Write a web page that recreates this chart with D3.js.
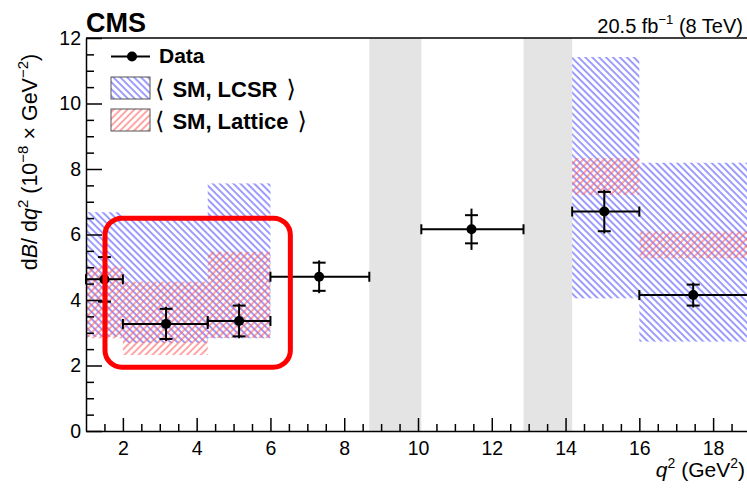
<!DOCTYPE html>
<meta charset="utf-8">
<style>
  body { margin: 0; background: #fff; }
  svg text { font-family: "Liberation Sans", Arial, sans-serif; fill: #000; }
  .axis path, .axis line { stroke: #000; stroke-width: 1.5; }
  .axis text { font-size: 19.5px; }
</style>
<body>
<div id="chart"></div>
<script src="https://cdn.jsdelivr.net/npm/d3@7"></script>
<script>

// data points: bin edges, position inside the bin, value, stat and total errors
const binLo  = [1, 2, 4.3, 6, 10.09, 14.18, 16];
const binHi  = [2, 4.3, 6, 8.68, 12.86, 16, 19];
const pointX = [1.50, 3.17, 5.15, 7.32, 11.45, 15.05, 17.46];
const pointY = [4.63, 3.27, 3.36, 4.71, 6.16, 6.70, 4.15];
const statErr = [0.68, 0.46, 0.47, 0.43, 0.43, 0.60, 0.32];
const totErr  = [0.78, 0.52, 0.53, 0.50, 0.63, 0.67, 0.38];

// SM predictions (bands)
const predLo = [1, 2, 4.3, 14.18, 16];
const predHi = [2, 4.3, 6, 16, 19];
const lcsrMin = [2.88, 2.69, 2.83, 4.05, 2.73];
const lcsrMax = [6.68, 6.45, 7.56, 11.42, 8.19];
const latMin  = [2.83, 2.32, 2.84, 7.21, 5.27];
const latMax  = [5.02, 4.56, 5.47, 8.33, 6.09];

// vetoed q2 regions (J/psi and psi')
const vetoLo = [8.68, 12.86];
const vetoHi = [10.09, 14.18];

// highlighted region
const boxX = [1.515, 6.54];
const boxY = [1.95, 6.5];

const xTicks = [2, 4, 6, 8, 10, 12, 14, 16, 18];
const yTicks = [0, 2, 4, 6, 8, 10, 12];

let width = 747, height = 489;
let mLeft = 86, mRight = 750, mTop = 38, mBottom = 431;

let svg = d3.select("#chart").append("svg")
            .attr("width", width)
            .attr("height", height);

let x = d3.scaleLinear().domain([1, 19]).range([mLeft, mRight]);
let y = d3.scaleLinear().domain([0, 12]).range([mBottom, mTop]);

// hatch patterns
let defs = svg.append("defs");
function hatch(id, color, angle) {
  defs.append("pattern")
      .attr("id", id)
      .attr("patternUnits", "userSpaceOnUse")
      .attr("width", 4.9).attr("height", 4.9)
      .attr("patternTransform", "rotate(" + angle + ")")
    .append("line")
      .attr("x1", 1).attr("y1", 0).attr("x2", 1).attr("y2", 4.9)
      .attr("stroke", color).attr("stroke-width", 1.1);
}
hatch("lcsr", "#4c4cff", -45);
hatch("lattice", "#ff5c5c", 45);

// gray veto bands
svg.append("g").selectAll("rect")
   .data(vetoLo)
   .enter().append("rect")
     .attr("x", (d) => x(d))
     .attr("width", (d, i) => x(vetoHi[i]) - x(d))
     .attr("y", mTop)
     .attr("height", mBottom - mTop)
     .style("fill", "#e4e4e4");

// LCSR bands
svg.append("g").selectAll("rect")
   .data(predLo)
   .enter().append("rect")
     .attr("x", (d) => x(d))
     .attr("width", (d, i) => x(predHi[i]) - x(d))
     .attr("y", (d, i) => y(lcsrMax[i]))
     .attr("height", (d, i) => y(lcsrMin[i]) - y(lcsrMax[i]))
     .style("fill", "url(#lcsr)");

// Lattice bands
svg.append("g").selectAll("rect")
   .data(predLo)
   .enter().append("rect")
     .attr("x", (d) => x(d))
     .attr("width", (d, i) => x(predHi[i]) - x(d))
     .attr("y", (d, i) => y(latMax[i]))
     .attr("height", (d, i) => y(latMin[i]) - y(latMax[i]))
     .style("fill", "url(#lattice)");

// axes
let xAxis = svg.append("g")
   .attr("class", "axis")
   .attr("transform", "translate(0," + mBottom + ")")
   .call(d3.axisBottom(x).tickValues(xTicks).tickSize(-13).tickSizeOuter(0).tickPadding(10));
xAxis.append("g")
   .call(d3.axisBottom(x).tickValues(d3.range(1.5, 19, 0.5).filter((v) => v % 2 != 0))
           .tickSize(-7).tickSizeOuter(0).tickFormat(""))
   .select(".domain").remove();

let yAxis = svg.append("g")
   .attr("class", "axis")
   .attr("transform", "translate(" + mLeft + ",0)")
   .call(d3.axisLeft(y).tickValues(yTicks).tickSize(-16).tickSizeOuter(0).tickPadding(5));
yAxis.append("g")
   .call(d3.axisLeft(y).tickValues(d3.range(0.5, 12, 0.5).filter((v) => v % 2 != 0))
           .tickSize(-8).tickSizeOuter(0).tickFormat(""))
   .select(".domain").remove();

// frame
svg.append("path")
   .attr("d", "M" + mLeft + "," + mTop + "H" + mRight + "V" + mBottom)
   .style("fill", "none").style("stroke", "#000").style("stroke-width", 1.5);

// data points
let pts = svg.append("g").selectAll("g")
   .data(pointX)
   .enter().append("g")
     .style("stroke", "#000").style("stroke-width", 2);
pts.append("line")
   .attr("x1", (d, i) => x(binLo[i])).attr("x2", (d, i) => x(binHi[i]))
   .attr("y1", (d, i) => y(pointY[i])).attr("y2", (d, i) => y(pointY[i]));
pts.append("line")
   .attr("x1", (d) => x(d)).attr("x2", (d) => x(d))
   .attr("y1", (d, i) => y(pointY[i] + totErr[i])).attr("y2", (d, i) => y(pointY[i] - totErr[i]));
[-1, 1].forEach((s) => {
  pts.append("line")
     .attr("x1", (d) => x(d) - 6.5).attr("x2", (d) => x(d) + 6.5)
     .attr("y1", (d, i) => y(pointY[i] + s * statErr[i])).attr("y2", (d, i) => y(pointY[i] + s * statErr[i]));
});
pts.append("line")
   .attr("x1", (d, i) => x(binLo[i])).attr("x2", (d, i) => x(binLo[i]))
   .attr("y1", (d, i) => y(pointY[i]) - 5).attr("y2", (d, i) => y(pointY[i]) + 5);
pts.append("line")
   .attr("x1", (d, i) => x(binHi[i])).attr("x2", (d, i) => x(binHi[i]))
   .attr("y1", (d, i) => y(pointY[i]) - 5).attr("y2", (d, i) => y(pointY[i]) + 5);
pts.append("circle")
   .attr("cx", (d) => x(d)).attr("cy", (d, i) => y(pointY[i]))
   .attr("r", 5).style("fill", "#000").style("stroke", "none");

// red highlight box
svg.append("rect")
   .attr("x", x(boxX[0])).attr("y", y(boxY[1]))
   .attr("width", x(boxX[1]) - x(boxX[0]))
   .attr("height", y(boxY[0]) - y(boxY[1]))
   .attr("rx", 17)
   .style("fill", "none").style("stroke", "#ff0000").style("stroke-width", 5);

// legend
let legend = svg.append("g");
legend.append("line").attr("x1", 111).attr("x2", 150).attr("y1", 56.5).attr("y2", 56.5)
      .style("stroke", "#000").style("stroke-width", 2);
legend.append("line").attr("x1", 132).attr("x2", 132).attr("y1", 52).attr("y2", 61)
      .style("stroke", "#000").style("stroke-width", 2);
legend.append("circle").attr("cx", 132).attr("cy", 56.5).attr("r", 5);
legend.append("text").attr("x", 159).attr("y", 63)
      .style("font-size", "21px").style("font-weight", "bold").text("Data");

[["lcsr", 77, "SM, LCSR"], ["lattice", 109, "SM, Lattice"]]
  .forEach((it) => {
    legend.append("rect").attr("x", 111).attr("y", it[1]).attr("width", 39).attr("height", 22)
          .style("fill", "url(#" + it[0] + ")").style("stroke", "#555").style("stroke-width", 1);
    let t = legend.append("text").attr("x", 155).attr("y", it[1] + 19.5)
          .style("font-size", "22px").style("font-weight", "bold");
    t.append("tspan").style("font-weight", "normal").style("font-family", "DejaVu Sans")
     .style("font-size", "24px").text("\u27E8");
    t.append("tspan").attr("dx", 8).text(it[2]);
    t.append("tspan").attr("dx", 9).style("font-weight", "normal").style("font-family", "DejaVu Sans")
     .style("font-size", "24px").text("\u27E9");
  });

// titles
svg.append("text").attr("x", 86).attr("y", 32)
   .style("font-size", "27px").style("font-weight", "bold").text("CMS");

let lumi = svg.append("text").attr("x", 743).attr("y", 33).attr("text-anchor", "end")
   .style("font-size", "20px");
lumi.append("tspan").text("20.5 fb");
lumi.append("tspan").attr("dy", -9).style("font-size", "13px").text("\u22121");
lumi.append("tspan").attr("dy", 9).text(" (8 TeV)");

let xt = svg.append("text").attr("x", 745).attr("y", 477).attr("text-anchor", "end")
   .style("font-size", "21px");
xt.append("tspan").style("font-style", "italic").text("q");
xt.append("tspan").attr("dy", -9).style("font-size", "14px").text("2");
xt.append("tspan").attr("dy", 9).text(" (GeV");
xt.append("tspan").attr("dy", -9).style("font-size", "14px").text("2");
xt.append("tspan").attr("dy", 9).text(")");

let yt = svg.append("text")
   .attr("transform", "translate(37,162) rotate(-90)")
   .attr("text-anchor", "middle")
   .style("font-size", "21.5px");
yt.append("tspan").text("d");
yt.append("tspan").style("font-style", "italic").text("B");
yt.append("tspan").text("/ d");
yt.append("tspan").style("font-style", "italic").text("q");
yt.append("tspan").attr("dy", -9).style("font-size", "15px").text("2");
yt.append("tspan").attr("dy", 9).text(" (10");
yt.append("tspan").attr("dy", -9).style("font-size", "15px").text("\u22128");
yt.append("tspan").attr("dy", 9).text(" \u00D7 GeV");
yt.append("tspan").attr("dy", -9).style("font-size", "15px").text("\u22122");
yt.append("tspan").attr("dy", 9).text(")");

</script>
</body>
</html>
